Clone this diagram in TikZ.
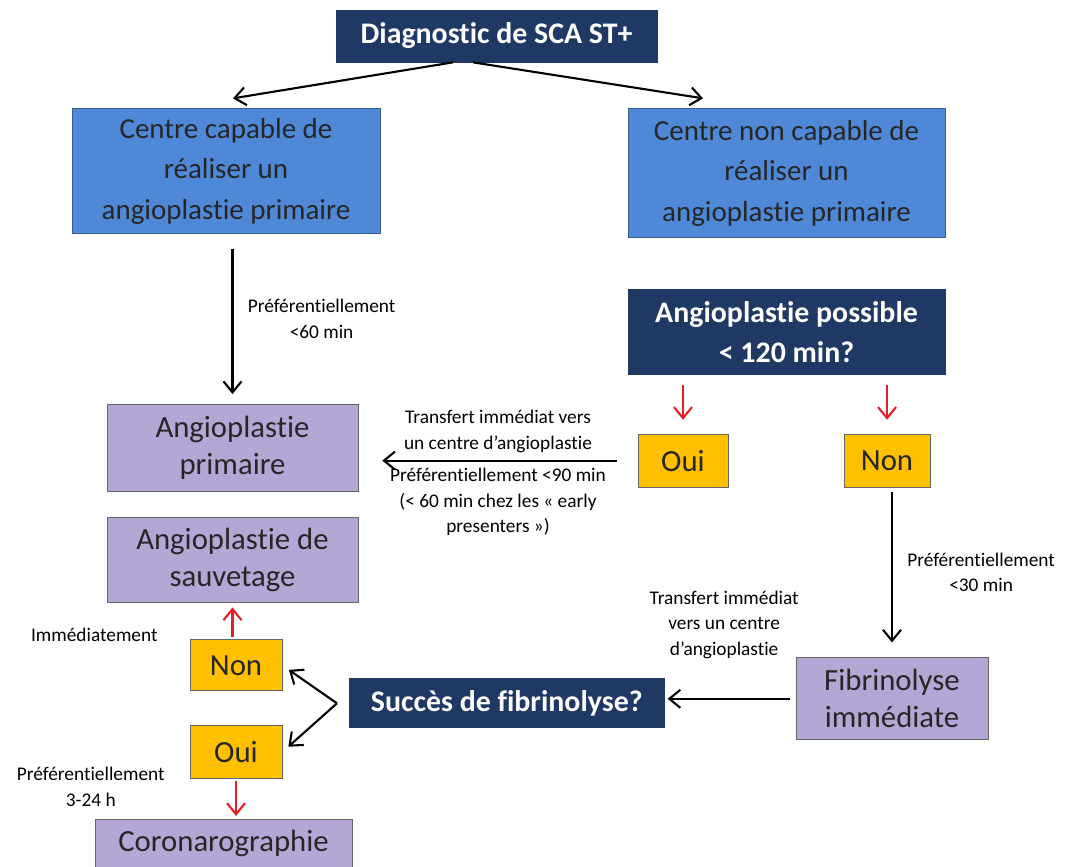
\documentclass[tikz,border=0pt]{standalone}
\usepackage{fontspec}
\setmainfont{Carlito}[Ligatures=NoCommon]
\usepackage{tikz}
\usetikzlibrary{arrows.meta, positioning}
\definecolor{navy}{RGB}{31,56,100}
\definecolor{skyblue}{RGB}{79,136,214}
\definecolor{lavender}{RGB}{180,167,214}
\definecolor{amber}{RGB}{255,192,0}
\definecolor{alertred}{RGB}{228,30,36}
\tikzset{
    darkbox/.style={rectangle, draw=navy, fill=navy, text=white, font=\fontsize{17}{23}\selectfont\bfseries, align=center, inner sep=2pt},
    bluebox/.style={rectangle, draw=skyblue!70!black, fill=skyblue, text=black!85, font=\fontsize{16.5}{23}\selectfont, align=center, inner sep=2pt},
    purplebox/.style={rectangle, draw=black!60, fill=lavender, text=black!85, font=\fontsize{17.5}{21}\selectfont, align=center, inner sep=2pt},
    yesno/.style={rectangle, draw=black!60, fill=amber, text=black!85, font=\fontsize{17.5}{21}\selectfont, align=center, minimum width=1.8cm, minimum height=1.06cm, inner sep=2pt},
    lbl/.style={font=\fontsize{11}{14.5}\selectfont, text=black, align=center, inner sep=1pt},
    arrow/.style={line width=1.2pt, -{Straight Barb[length=2.2mm, width=3.6mm]}},
    redarrow/.style={arrow, alertred}
}
\begin{document}
\begin{tikzpicture}[node distance=1cm]
\useasboundingbox (-9.93,0.72) rectangle (11.47,-16.6);

% Top of the chart
\node[darkbox, minimum width=6.42cm, minimum height=1.04cm] (diag) {Diagnostic de SCA ST+};
\node[bluebox, minimum width=6.16cm, minimum height=2.5cm] (capable) [below=0.92cm of diag, xshift=-5.41cm] {Centre capable de\\réaliser un\\angioplastie primaire};
\node[bluebox, minimum width=6.34cm, minimum height=2.58cm] (noncap) [below=0.92cm of diag, xshift=5.8cm] {Centre non capable de\\réaliser un\\angioplastie primaire};
\draw[arrow] ([xshift=-0.87cm]diag.south) -- ([xshift=0.14cm, yshift=0.2cm]capable.north);
\draw[arrow] ([xshift=-0.47cm]diag.south) -- ([xshift=-1.67cm, yshift=0.2cm]noncap.north);

% Right branch: transfer decision
\node[darkbox, minimum width=6.34cm, minimum height=1.7cm] (possible) [below=1.02cm of noncap] {Angioplastie possible\\< 120 min?};
\node[yesno] (oui) [below=1.18cm of possible, xshift=-2.07cm] {Oui};
\node[yesno, minimum width=1.72cm] (non) [below=1.18cm of possible, xshift=2.01cm] {Non};
\draw[redarrow, shorten <=0.2cm, shorten >=0.28cm] (possible.south -| oui.north) -- (oui.north);
\draw[redarrow, shorten <=0.2cm, shorten >=0.28cm] (possible.south -| non.north) -- (non.north);

% Left column
\node[purplebox, minimum width=5.02cm, minimum height=1.74cm] (primaire) [below=3.4cm of capable, xshift=0.13cm] {Angioplastie\\primaire};
\node[purplebox, minimum width=5.02cm, minimum height=1.7cm] (sauvetage) [below=0.5cm of primaire] {Angioplastie de\\sauvetage};
\draw[arrow, shorten <=0.3cm, shorten >=0.2cm] (primaire.north |- capable.south) -- node[lbl, right=0.25cm] {Préférentiellement\\<60 min} (primaire.north);
\draw[arrow, shorten <=0.42cm, shorten >=0.48cm] (oui.west) -- (oui.west -| primaire.east)
    node[lbl, midway, above=0.1cm] {Transfert immédiat vers\\un centre d'angioplastie}
    node[lbl, midway, below=0.1cm] {Préférentiellement <90 min\\(< 60 min chez les « early\\presenters »)};

% Fibrinolysis
\node[purplebox, minimum width=3.84cm, minimum height=1.64cm] (fibrino) [below=3.4cm of non, xshift=0.1cm] {Fibrinolyse\\immédiate};
\node[darkbox, minimum width=6.3cm, minimum height=0.98cm] (succes) [left=2.62cm of fibrino, yshift=-0.09cm] {Succès de fibrinolyse?};
\draw[arrow, shorten <=0.1cm, shorten >=0.3cm] (non.south -| fibrino.north) -- node[lbl, right=0.25cm] {Préférentiellement\\<30 min} (fibrino.north);
\draw[arrow, shorten <=0.12cm, shorten >=0.06cm] (fibrino.west) -- (fibrino.west -| succes.east)
    node[lbl, midway, above=0.75cm, xshift=-0.12cm] {Transfert immédiat\\vers un centre\\d'angioplastie};

% Outcome of fibrinolysis
\node[yesno, minimum width=1.84cm, minimum height=1.02cm] (non2) [below=0.74cm of sauvetage, xshift=0.07cm] {Non};
\node[yesno, minimum width=1.84cm] (oui2) [below=0.68cm of non2] {Oui};
\node[purplebox, minimum width=5.14cm, minimum height=0.96cm] (corono) [below=0.8cm of oui2, xshift=-0.25cm] {Coronarographie};
\coordinate (fork) at ([xshift=-0.24cm]succes.west);
\draw[arrow, shorten >=0.16cm] (fork) -- (non2.east);
\draw[arrow, shorten >=0.16cm] (fork) -- (oui2.east);
\draw[redarrow, shorten <=0.04cm, shorten >=0.1cm] (non2.north -| sauvetage.south) -- (sauvetage.south);
\draw[redarrow, shorten <=0.04cm, shorten >=0.06cm] (oui2.south) -- (oui2.south |- corono.north);
\node[lbl] (immed) [left=0.6cm of non2.north west, yshift=0.1cm] {Immédiatement};
\node[lbl] (delai) [left=0.46cm of oui2.south west, yshift=-0.16cm] {Préférentiellement\\3-24 h};

\end{tikzpicture}
\end{document}
